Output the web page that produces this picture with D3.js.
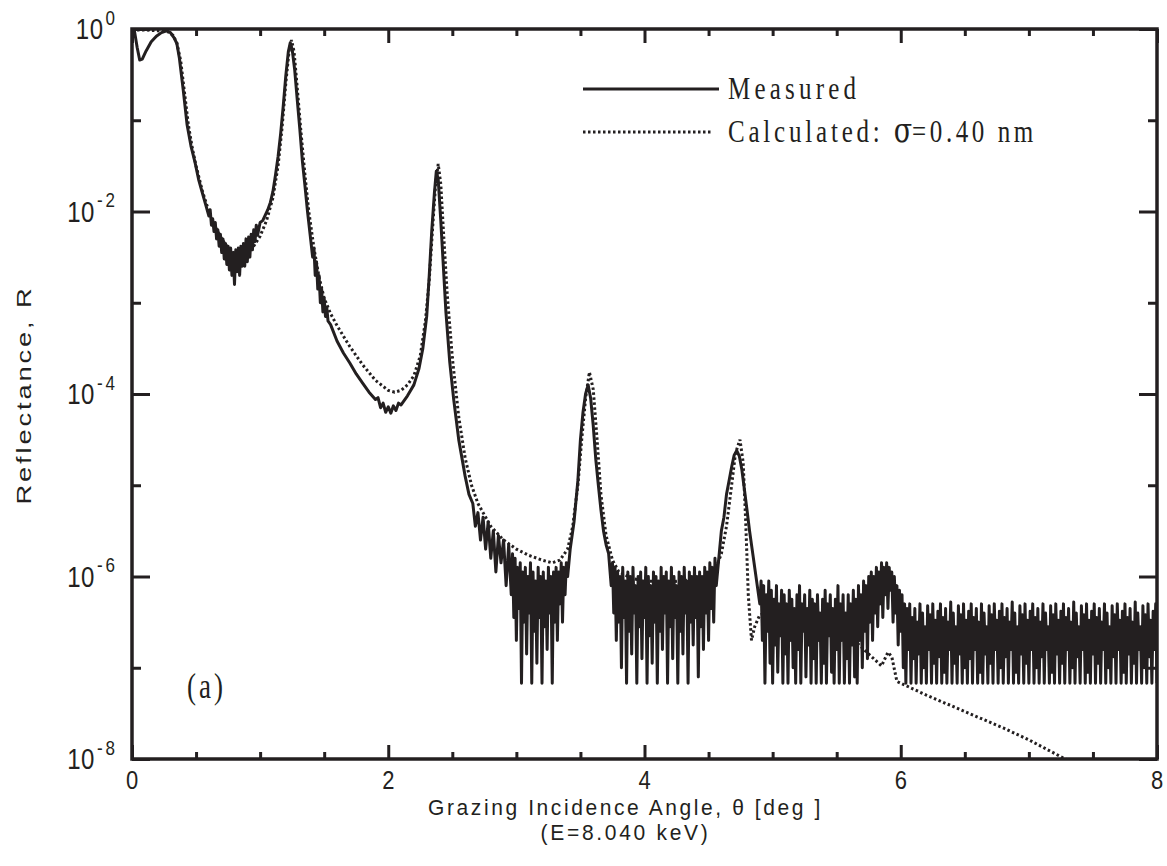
<!DOCTYPE html>
<html><head><meta charset="utf-8">
<script src="https://cdn.jsdelivr.net/npm/d3@7"></script>
<style>body{margin:0;background:#fff}</style>
</head><body><svg id="c" width="1167" height="866"></svg>
<script>
// ---- data ----
const xMajorTicks = [0, 2, 4, 6, 8];
const xMinorTicks = [0.5, 1, 1.5, 2.5, 3, 3.5, 4.5, 5, 5.5, 6.5, 7, 7.5];
const yMajorExp = [0, -2, -4, -6, -8];
const yMinorExp = [-1, -3, -5, -7];
const xTitle = "Grazing Incidence Angle, \u03b8 [deg ]";
const xSubTitle = "(E=8.040 keV)";
const yTitle = "Reflectance, R";
const legendLabels = ["Measured", "Calculated: "];
const panelLabel = "(a)";

// [theta (deg), log10 R]
const measured = [
[0.00,0.0],[0.02,-0.03],[0.04,-0.2],[0.06,-0.34],[0.08,-0.33],[0.11,-0.24],[0.15,-0.14],[0.19,-0.08],[0.23,-0.04],[0.27,-0.02],[0.30,-0.04],[0.33,-0.1],[0.35,-0.16],[0.37,-0.32],[0.40,-0.67],[0.43,-1.05],[0.46,-1.28],[0.49,-1.45],[0.52,-1.65],[0.55,-1.8],[0.58,-1.95],
[0.60,-2.05],[0.61,-1.98],[0.62,-2.15],[0.63,-2.08],[0.64,-2.22],[0.65,-2.12],[0.66,-2.3],[0.67,-2.2],[0.68,-2.38],[0.69,-2.25],[0.70,-2.45],[0.71,-2.3],[0.72,-2.52],[0.73,-2.35],[0.74,-2.58],[0.75,-2.38],[0.76,-2.64],[0.77,-2.4],[0.78,-2.7],[0.79,-2.45],[0.80,-2.8],[0.81,-2.42],[0.82,-2.66],[0.83,-2.4],[0.84,-2.7],[0.85,-2.38],[0.86,-2.6],[0.87,-2.35],[0.88,-2.6],[0.89,-2.3],[0.90,-2.55],[0.91,-2.28],[0.92,-2.5],[0.93,-2.25],[0.94,-2.42],[0.95,-2.2],[0.96,-2.33],[0.97,-2.15],[0.98,-2.26],[1.00,-2.12],[1.02,-2.1],[1.04,-2.04],[1.06,-1.98],[1.08,-1.9],[1.10,-1.78],[1.12,-1.6],[1.14,-1.4],[1.16,-1.15],[1.18,-0.85],[1.20,-0.52],[1.22,-0.25],[1.235,-0.15],[1.25,-0.22],[1.27,-0.45],[1.29,-0.78],[1.31,-1.1],[1.33,-1.45],[1.35,-1.72],[1.37,-2.0],
[1.39,-2.25],[1.41,-2.5],[1.42,-2.4],[1.43,-2.7],[1.44,-2.55],[1.45,-2.85],[1.46,-2.7],[1.47,-3.0],[1.48,-2.85],[1.49,-3.1],[1.50,-2.95],[1.51,-3.15],[1.52,-3.05],[1.53,-3.2],[1.55,-3.24],[1.60,-3.42],[1.65,-3.55],[1.70,-3.66],[1.75,-3.78],[1.80,-3.88],[1.85,-3.98],[1.90,-4.06],[1.92,-4.04],[1.94,-4.15],[1.96,-4.1],[1.98,-4.2],[2.00,-4.14],[2.02,-4.21],[2.04,-4.13],[2.06,-4.18],[2.08,-4.1],[2.10,-4.12],[2.15,-4.02],[2.20,-3.9],[2.24,-3.72],[2.27,-3.5],[2.30,-3.15],[2.32,-2.7],[2.34,-2.2],[2.36,-1.8],[2.375,-1.56],[2.39,-1.65],[2.41,-2.1],[2.43,-2.6],[2.45,-3.1],[2.48,-3.65],[2.51,-4.05],[2.55,-4.5],[2.60,-4.9],[2.63,-5.1],
[2.66,-5.2],[2.68,-5.45],[2.70,-5.3],[2.72,-5.6],[2.74,-5.35],[2.76,-5.7],[2.78,-5.4],[2.80,-5.8],[2.82,-5.5],[2.84,-5.95],[2.86,-5.55],[2.88,-5.85],[2.90,-5.6],[2.92,-6.1],[2.94,-5.65],
[2.96,-6.2],[2.97,-5.75],[2.98,-6.45],[2.99,-5.8],[3.00,-6.7],[3.01,-5.9],[3.02,-6.35],[3.03,-5.85],[3.04,-7.17],[3.05,-5.95],[3.06,-6.5],[3.07,-5.9],[3.08,-6.85],[3.09,-6.0],[3.10,-6.4],[3.11,-5.85],[3.12,-7.17],[3.13,-5.95],[3.14,-6.6],[3.15,-6.05],[3.16,-6.95],[3.17,-5.9],[3.18,-6.45],[3.19,-6.0],[3.20,-7.17],[3.21,-5.95],[3.22,-6.55],[3.23,-6.05],[3.24,-6.8],[3.25,-5.9],[3.26,-6.4],[3.27,-6.0],[3.28,-7.17],[3.29,-5.95],[3.30,-6.5],[3.31,-5.9],[3.32,-6.7],[3.33,-5.95],[3.34,-6.3],[3.35,-5.85],[3.36,-6.5],[3.37,-5.9],[3.38,-6.2],[3.39,-5.85],[3.40,-6.0],
[3.42,-5.7],[3.45,-5.4],[3.48,-4.95],[3.50,-4.5],[3.52,-4.2],[3.54,-4.0],[3.56,-3.9],[3.58,-4.05],[3.60,-4.35],[3.62,-4.72],[3.64,-5.0],[3.66,-5.27],[3.68,-5.5],[3.70,-5.65],[3.72,-5.75],
[3.74,-6.1],[3.75,-5.85],[3.76,-6.4],[3.77,-5.9],[3.78,-6.7],[3.79,-5.95],[3.80,-6.5],[3.81,-6.0],[3.82,-7.0],[3.83,-5.9],[3.84,-6.45],[3.85,-6.05],[3.86,-7.17],[3.87,-5.95],[3.88,-6.6],[3.89,-6.0],[3.90,-6.85],[3.91,-5.9],[3.92,-6.4],[3.93,-6.1],[3.94,-7.17],[3.95,-6.0],[3.96,-6.55],[3.97,-5.95],[3.98,-6.9],[3.99,-6.05],[4.00,-6.45],[4.01,-5.9],[4.02,-7.17],[4.03,-6.0],[4.04,-6.65],[4.05,-6.1],[4.06,-6.95],[4.07,-5.95],[4.08,-6.5],[4.09,-6.0],[4.10,-7.17],[4.11,-6.05],[4.12,-6.6],[4.13,-5.9],[4.14,-6.8],[4.15,-6.0],[4.16,-6.4],[4.17,-5.95],[4.18,-7.17],[4.19,-6.05],[4.20,-6.55],[4.21,-5.9],[4.22,-6.9],[4.23,-6.0],[4.24,-6.45],[4.25,-6.1],[4.26,-7.17],[4.27,-5.95],[4.28,-6.6],[4.29,-6.0],[4.30,-6.85],[4.31,-5.9],[4.32,-6.4],[4.33,-6.05],[4.34,-7.17],[4.35,-5.95],[4.36,-6.5],[4.37,-6.0],[4.38,-6.75],[4.39,-5.9],[4.40,-6.45],[4.41,-6.0],[4.42,-7.1],[4.43,-5.95],[4.44,-6.55],[4.45,-6.0],[4.46,-6.8],[4.47,-5.9],[4.48,-6.4],[4.49,-5.95],[4.50,-6.7],[4.51,-5.85],[4.52,-6.35],[4.53,-5.9],[4.54,-6.5],[4.55,-5.8],[4.56,-6.1],
[4.58,-5.8],[4.60,-5.5],[4.62,-5.35],[4.64,-5.1],[4.66,-4.95],[4.68,-4.8],[4.70,-4.67],[4.72,-4.62],[4.74,-4.68],[4.76,-4.83],[4.78,-5.05],[4.80,-5.27],[4.82,-5.5],[4.84,-5.7],[4.86,-5.9],[4.88,-6.1],
[4.90,-6.3],[4.91,-6.05],[4.92,-6.7],[4.93,-6.1],[4.94,-7.17],[4.95,-6.2],[4.96,-6.6],[4.97,-6.05],[4.98,-6.95],[4.99,-6.15],[5.00,-7.17],[5.01,-6.25],[5.02,-6.75],[5.03,-6.1],[5.04,-7.05],[5.05,-6.3],[5.06,-6.65],[5.07,-6.15],[5.08,-7.17],[5.09,-6.2],[5.10,-6.85],[5.11,-6.3],[5.12,-7.17],[5.13,-6.15],[5.14,-6.7],[5.15,-6.25],[5.16,-7.0],[5.17,-6.35],[5.18,-7.17],[5.19,-6.2],[5.20,-6.8],[5.21,-6.1],[5.22,-7.17],[5.23,-6.3],[5.24,-6.6],[5.25,-6.2],[5.26,-7.1],[5.27,-6.35],[5.28,-6.75],[5.29,-6.15],[5.30,-7.17],[5.31,-6.25],[5.32,-6.9],[5.33,-6.3],[5.34,-7.17],[5.35,-6.2],[5.36,-6.7],[5.37,-6.4],[5.38,-7.17],[5.39,-6.25],[5.40,-6.95],[5.41,-6.15],[5.42,-7.17],[5.43,-6.3],[5.44,-6.65],[5.45,-6.2],[5.46,-7.05],[5.47,-6.35],[5.48,-7.17],[5.49,-6.25],[5.50,-6.8],[5.51,-6.1],[5.52,-7.17],[5.53,-6.3],[5.54,-6.7],[5.55,-6.2],[5.56,-7.17],[5.57,-6.4],[5.58,-6.9],[5.59,-6.2],[5.60,-7.17],[5.61,-6.3],[5.62,-6.75],[5.63,-6.15],[5.64,-7.1],[5.65,-6.25],[5.66,-7.17],[5.67,-6.1],[5.68,-6.7],[5.69,-6.2],[5.70,-7.0],[5.71,-6.05],[5.72,-6.6],[5.73,-6.1],[5.74,-6.9],[5.75,-6.0],[5.76,-6.5],[5.77,-5.95],[5.78,-6.7],[5.79,-6.0],[5.80,-6.4],[5.81,-5.9],[5.82,-6.55],[5.83,-5.95],[5.84,-6.3],[5.85,-5.85],[5.86,-6.45],[5.87,-5.9],[5.88,-6.2],[5.89,-5.85],[5.90,-6.35],[5.91,-5.9],[5.92,-6.15],[5.93,-5.95],[5.94,-6.5],[5.95,-6.0],[5.96,-6.4],[5.97,-6.1],[5.98,-6.75],[5.99,-6.15],[6.00,-6.6],[6.01,-6.2],[6.02,-7.0],[6.03,-6.3],[6.04,-7.17],[6.05,-6.35],[6.06,-6.8],[6.07,-6.3],[6.08,-7.17],
[6.09,-6.45],[6.10,-6.9],[6.11,-6.35],[6.12,-7.17],[6.13,-6.5],[6.14,-6.85],[6.15,-6.3],[6.16,-7.17],[6.17,-6.4],[6.18,-7.0],[6.19,-6.55],[6.20,-7.17],[6.21,-6.32],[6.22,-6.8],[6.23,-6.42],[6.24,-7.17],[6.25,-6.3],[6.26,-6.95],[6.27,-6.48],[6.28,-7.17],[6.29,-6.38],[6.30,-6.88],[6.31,-6.3],[6.32,-7.17],[6.33,-6.45],[6.34,-7.05],[6.35,-6.35],[6.36,-7.17],[6.37,-6.5],[6.38,-6.8],[6.39,-6.28],[6.40,-7.17],[6.41,-6.4],[6.42,-6.95],[6.43,-6.55],[6.44,-7.17],[6.45,-6.32],[6.46,-6.85],[6.47,-6.42],[6.48,-7.17],[6.49,-6.3],[6.50,-7.0],[6.51,-6.48],[6.52,-7.17],[6.53,-6.38],[6.54,-6.9],[6.55,-6.3],[6.56,-7.17],[6.57,-6.45],[6.58,-6.8],[6.59,-6.35],[6.60,-7.17],[6.61,-6.5],[6.62,-7.05],[6.63,-6.3],[6.64,-7.17],[6.65,-6.4],[6.66,-6.85],[6.67,-6.55],[6.68,-7.17],[6.69,-6.32],[6.70,-6.95],[6.71,-6.42],[6.72,-7.17],[6.73,-6.3],[6.74,-6.8],[6.75,-6.48],[6.76,-7.17],[6.77,-6.38],[6.78,-7.0],[6.79,-6.3],[6.80,-7.17],[6.81,-6.45],[6.82,-6.88],[6.83,-6.35],[6.84,-7.17],[6.85,-6.5],[6.86,-6.8],[6.87,-6.28],[6.88,-7.17],[6.89,-6.4],[6.90,-7.05],[6.91,-6.55],[6.92,-7.17],[6.93,-6.32],[6.94,-6.85],[6.95,-6.42],[6.96,-7.17],[6.97,-6.3],[6.98,-6.95],[6.99,-6.48],[7.00,-7.17],
[7.01,-6.38],[7.02,-6.8],[7.03,-6.3],[7.04,-7.17],[7.05,-6.45],[7.06,-7.0],[7.07,-6.35],[7.08,-7.17],[7.09,-6.5],[7.10,-6.88],[7.11,-6.3],[7.12,-7.17],[7.13,-6.4],[7.14,-6.8],[7.15,-6.55],[7.16,-7.17],[7.17,-6.32],[7.18,-7.05],[7.19,-6.42],[7.20,-7.17],[7.21,-6.3],[7.22,-6.85],[7.23,-6.48],[7.24,-7.17],[7.25,-6.38],[7.26,-6.95],[7.27,-6.3],[7.28,-7.17],[7.29,-6.45],[7.30,-6.8],[7.31,-6.35],[7.32,-7.17],[7.33,-6.5],[7.34,-7.0],[7.35,-6.28],[7.36,-7.17],[7.37,-6.4],[7.38,-6.88],[7.39,-6.55],[7.40,-7.17],[7.41,-6.32],[7.42,-6.8],[7.43,-6.42],[7.44,-7.17],[7.45,-6.3],[7.46,-7.05],[7.47,-6.48],[7.48,-7.17],[7.49,-6.38],[7.50,-6.85],[7.51,-6.3],[7.52,-7.17],[7.53,-6.45],[7.54,-6.95],[7.55,-6.35],[7.56,-7.17],[7.57,-6.5],[7.58,-6.8],[7.59,-6.3],[7.60,-7.17],[7.61,-6.4],[7.62,-7.0],[7.63,-6.55],[7.64,-7.17],[7.65,-6.32],[7.66,-6.88],[7.67,-6.42],[7.68,-7.17],[7.69,-6.3],[7.70,-6.8],[7.71,-6.48],[7.72,-7.17],[7.73,-6.38],[7.74,-7.05],[7.75,-6.3],[7.76,-7.17],[7.77,-6.45],[7.78,-6.85],[7.79,-6.35],[7.80,-7.17],[7.81,-6.5],[7.82,-6.95],[7.83,-6.28],[7.84,-7.17],[7.85,-6.4],[7.86,-6.8],[7.87,-6.55],[7.88,-7.17],[7.89,-6.32],[7.90,-7.0],[7.91,-6.42],[7.92,-7.17],[7.93,-6.3],[7.94,-6.88],[7.95,-6.48],[7.96,-7.17],[7.97,-6.38],[7.98,-6.8],[7.99,-6.3],[8.00,-7.17]
];

const calculated = [
[0.0,-0.01],[0.1,-0.01],[0.2,-0.02],[0.28,-0.03],[0.32,-0.07],[0.35,-0.15],[0.38,-0.35],[0.41,-0.7],[0.44,-1.05],[0.47,-1.3],[0.5,-1.5],[0.55,-1.78],[0.6,-2.0],[0.65,-2.17],[0.7,-2.3],[0.75,-2.4],[0.8,-2.46],[0.85,-2.48],[0.9,-2.45],[0.95,-2.38],[1.0,-2.27],[1.05,-2.1],[1.1,-1.85],[1.14,-1.5],[1.17,-1.1],[1.2,-0.6],[1.225,-0.25],[1.245,-0.12],[1.265,-0.25],[1.29,-0.65],[1.32,-1.15],[1.35,-1.6],[1.38,-2.0],[1.42,-2.4],[1.46,-2.72],[1.5,-2.95],[1.55,-3.12],[1.6,-3.25],[1.7,-3.48],[1.8,-3.68],[1.9,-3.85],[2.0,-3.96],[2.05,-3.98],[2.1,-3.96],[2.15,-3.9],[2.2,-3.8],[2.25,-3.58],[2.29,-3.2],[2.32,-2.75],[2.35,-2.1],[2.37,-1.7],[2.39,-1.48],[2.41,-1.7],[2.43,-2.2],[2.46,-2.9],[2.5,-3.6],[2.55,-4.25],[2.6,-4.7],[2.65,-5.0],[2.7,-5.2],[2.8,-5.45],[2.9,-5.6],[3.0,-5.7],[3.1,-5.77],[3.2,-5.82],[3.28,-5.85],[3.34,-5.82],[3.4,-5.7],[3.44,-5.45],[3.48,-5.0],[3.51,-4.5],[3.54,-4.05],[3.57,-3.76],[3.6,-3.95],[3.63,-4.5],[3.66,-5.1],[3.7,-5.55],[3.75,-5.82],[3.8,-5.95],[3.9,-6.02],[4.0,-6.05],[4.2,-6.06],[4.4,-6.03],[4.5,-5.98],[4.56,-5.9],[4.6,-5.75],[4.64,-5.45],[4.68,-5.0],[4.71,-4.65],[4.745,-4.5],[4.77,-4.75],[4.79,-5.4],[4.81,-6.2],[4.835,-6.7],[4.86,-6.55],[4.9,-6.42],[5.0,-6.38],[5.2,-6.42],[5.4,-6.5],[5.6,-6.65],[5.75,-6.85],[5.85,-6.98],[5.9,-6.83],[5.93,-6.88],[5.97,-7.15],[6.2,-7.3],[6.5,-7.48],[6.8,-7.66],[7.0,-7.79],[7.27,-7.99],[7.5,-8.15],[8.0,-8.5]
];

// ---- drawing ----
const M = {left: 132, right: 1157, top: 29, bottom: 759};
const INK = "#231f20";
const SANS = "'Liberation Sans', Arial, sans-serif";
const SERIF = "'Liberation Serif', 'Times New Roman', serif";

const svg = d3.select("#c");
const x = d3.scaleLinear().domain([0, 8]).range([M.left, M.right]);
const y = d3.scaleLog().domain([1e-8, 1]).range([M.bottom, M.top]);

svg.append("defs").append("clipPath").attr("id", "plotclip")
  .append("rect").attr("x", M.left).attr("y", M.top)
  .attr("width", M.right - M.left).attr("height", M.bottom - M.top);

function styleAxis(g) {
  g.select(".domain").remove();
  g.selectAll(".tick line").attr("stroke", INK).attr("stroke-width", 3);
  g.selectAll(".tick text").remove();
}
const noLab = () => "";
const yMaj = yMajorExp.map(e => Math.pow(10, e));
const yMin = yMinorExp.map(e => Math.pow(10, e));
[[d3.axisBottom, M.bottom], [d3.axisTop, M.top]].forEach(([ax, pos]) => {
  svg.append("g").attr("transform", `translate(0,${pos})`)
    .call(ax(x).tickValues(xMajorTicks).tickSizeInner(-14).tickSizeOuter(0).tickFormat(noLab)).call(styleAxis);
  svg.append("g").attr("transform", `translate(0,${pos})`)
    .call(ax(x).tickValues(xMinorTicks).tickSizeInner(-7).tickSizeOuter(0).tickFormat(noLab)).call(styleAxis);
});
[[d3.axisLeft, M.left], [d3.axisRight, M.right]].forEach(([ax, pos]) => {
  svg.append("g").attr("transform", `translate(${pos},0)`)
    .call(ax(y).tickValues(yMaj).tickSizeInner(-18).tickSizeOuter(0).tickFormat(noLab)).call(styleAxis);
  svg.append("g").attr("transform", `translate(${pos},0)`)
    .call(ax(y).tickValues(yMin).tickSizeInner(-9).tickSizeOuter(0).tickFormat(noLab)).call(styleAxis);
});

// curves
const line = d3.line().x(d => x(d[0])).y(d => y(Math.pow(10, d[1])));
const plot = svg.append("g").attr("clip-path", "url(#plotclip)");
plot.append("path").datum(calculated).attr("d", line)
  .attr("fill", "none").attr("stroke", INK).attr("stroke-width", 3)
  .attr("stroke-dasharray", "2.5,2.5");
plot.append("path").datum(measured).attr("d", line)
  .attr("fill", "none").attr("stroke", INK).attr("stroke-width", 3)
  .attr("stroke-linejoin", "round");

// frame
svg.append("rect").attr("x", M.left).attr("y", M.top)
  .attr("width", M.right - M.left).attr("height", M.bottom - M.top)
  .attr("fill", "none").attr("stroke", INK).attr("stroke-width", 3.5);

// text helper: glyphs stretched vertically like the original
function txt(px, py, family, size, anchor, ls, k) {
  return svg.append("text")
    .attr("transform", `translate(${px},${py}) scale(1,${k})`)
    .attr("font-family", family).attr("font-size", size)
    .attr("text-anchor", anchor).attr("letter-spacing", ls)
    .attr("fill", INK);
}

// x tick labels
xMajorTicks.forEach(v => {
  txt(x(v), 789, SANS, 22, "middle", 0, 1.2).text(String(v));
});
// y tick labels 10^n
yMajorExp.forEach(e => {
  const t = txt(118, y(Math.pow(10, e)) + 10, SANS, 24, "end", 0.5, 1.2);
  t.append("tspan").text("10");
  t.append("tspan").attr("font-size", 17).attr("dy", -12).attr("dx", 2).attr("letter-spacing", 3).text(e === 0 ? "0" : String(e));
});

// axis titles
const cx = (M.left + M.right) / 2 - 19;
txt(cx, 815, SANS, 21, "middle", 2.6, 1.05).text(xTitle);
txt(cx, 840, SANS, 21, "middle", 2.7, 1.05).text(xSubTitle);
svg.append("text")
  .attr("transform", `translate(31,${(300 + 490) / 2}) scale(1,1.3) rotate(-90)`)
  .attr("font-family", SANS).attr("font-size", 21).attr("letter-spacing", 2.2)
  .attr("text-anchor", "middle").attr("fill", INK).text(yTitle);

// legend
const lg = svg.append("g");
lg.append("line").attr("x1", 583).attr("x2", 719).attr("y1", 89).attr("y2", 89)
  .attr("stroke", INK).attr("stroke-width", 3.2);
lg.append("line").attr("x1", 583).attr("x2", 712).attr("y1", 132).attr("y2", 132)
  .attr("stroke", INK).attr("stroke-width", 3).attr("stroke-dasharray", "2.5,2.5");
txt(728, 99, SERIF, 25, "start", 4.2, 1.3).text(legendLabels[0]);
const cl = txt(728, 142, SERIF, 25, "start", 3.8, 1.3);
cl.append("tspan").text(legendLabels[1]);
cl.append("tspan").attr("font-family", "'DejaVu Serif', serif").attr("font-size", 27).attr("letter-spacing", 0).text("\u03c3");
cl.append("tspan").attr("letter-spacing", 3.6).text("=0.40 nm");

// panel label
txt(187, 698, SERIF, 27, "start", 3, 1.3).text(panelLabel);
</script>
</body></html>
